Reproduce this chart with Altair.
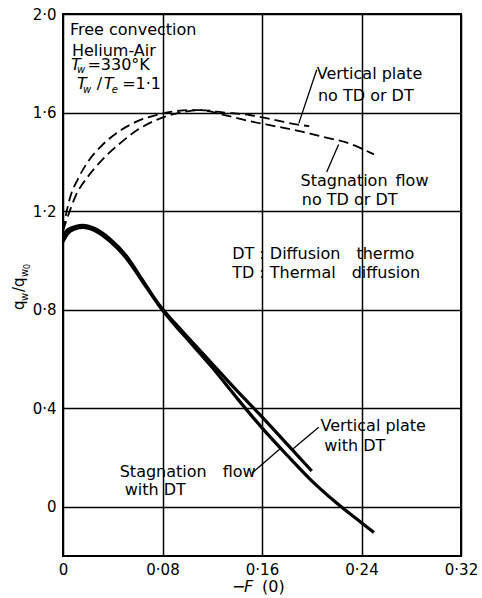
import altair as alt
import pandas as pd

FONT = "DejaVu Sans"
EN = "\u2002"
EM = "\u2003"

# ---- data ----
vp_dt_x = [0.0, 0.004, 0.01, 0.016, 0.025, 0.0375, 0.051, 0.064, 0.077, 0.09, 0.10, 0.12, 0.14, 0.16, 0.18, 0.20]
vp_dt_y = [1.10, 1.125, 1.137, 1.142, 1.13, 1.088, 1.018, 0.92, 0.822, 0.745, 0.69, 0.58, 0.47, 0.365, 0.255, 0.145]

sf_dt_x = [0.0, 0.004, 0.01, 0.016, 0.025, 0.0375, 0.051, 0.064, 0.077, 0.09, 0.10, 0.12, 0.14, 0.16, 0.18, 0.20, 0.22, 0.24, 0.25]
sf_dt_y = [1.075, 1.11, 1.128, 1.134, 1.122, 1.078, 1.008, 0.913, 0.818, 0.737, 0.68, 0.565, 0.44, 0.32, 0.21, 0.105, 0.015, -0.065, -0.105]

sf_no_x = [0.0, 0.003, 0.006, 0.012, 0.02, 0.03, 0.047, 0.06, 0.075, 0.09, 0.10, 0.11, 0.13, 0.15, 0.17, 0.19, 0.21, 0.227, 0.25]
sf_no_y = [1.12, 1.20, 1.26, 1.33, 1.40, 1.46, 1.53, 1.565, 1.59, 1.605, 1.61, 1.61, 1.59, 1.565, 1.545, 1.525, 1.50, 1.48, 1.43]

vp_no_x = [0.0, 0.004, 0.01, 0.02, 0.03, 0.047, 0.06, 0.075, 0.09, 0.10, 0.11, 0.13, 0.15, 0.17, 0.19, 0.198]
vp_no_y = [1.12, 1.18, 1.26, 1.34, 1.40, 1.48, 1.53, 1.57, 1.595, 1.605, 1.61, 1.60, 1.59, 1.57, 1.55, 1.545]

x_ticks = [0, 0.08, 0.16, 0.24, 0.32]
y_ticks = [0, 0.4, 0.8, 1.2, 1.6, 2.0]

# annotation texts (left x, baseline y in data units)
note_text = ["Free convection", "Helium-Air",
             "Vertical plate", "no TD or DT",
             "Stagnation" + EN + "flow", "no TD or DT",
             "DT : Diffusion" + EM + "thermo", "TD : Thermal" + EM + "diffusion",
             "Vertical plate", "with DT",
             "Stagnation" + EM + "flow", "with DT"]
note_x = [0.0056, 0.0072, 0.204, 0.205, 0.191, 0.192, 0.136, 0.136, 0.207, 0.210, 0.0456, 0.0496]
note_y = [1.915, 1.831, 1.738, 1.645, 1.302, 1.226, 1.004, 0.927, 0.306, 0.226, 0.121, 0.048]

# T_w = 330°K and T_w/T_e = 1·1 built from pieces
piece_text = ["T", "w", "=330°K", "T", "w", "/", "T", "e", "=1·1"]
piece_x = [0.0064, 0.0112, 0.0196, 0.0112, 0.0160, 0.0272, 0.0328, 0.0392, 0.0476]
piece_y = [1.774, 1.762, 1.774, 1.694, 1.681, 1.694, 1.694, 1.681, 1.694]
piece_sub = [False, True, False, False, True, False, False, True, False]
piece_it = [True, True, False, True, True, False, True, True, False]

# leader lines
lead_id = [1, 1, 2, 2, 3, 3, 4, 4]
lead_x = [0.204, 0.1896, 0.2216, 0.212, 0.2056, 0.185, 0.152, 0.175]
lead_y = [1.774, 1.556, 1.47, 1.359, 0.3226, 0.235, 0.137, 0.237]

# ---- tables ----
def series(name, xs, ys):
    return pd.DataFrame({"series": name, "x": xs, "y": ys, "order": range(len(xs))})

solid_df = pd.concat([series("Vertical plate with DT", vp_dt_x, vp_dt_y),
                      series("Stagnation flow with DT", sf_dt_x, sf_dt_y)])
dash_df = pd.concat([series("Vertical plate no TD or DT", vp_no_x, vp_no_y),
                     series("Stagnation flow no TD or DT", sf_no_x, sf_no_y)])
notes_df = pd.DataFrame({"t": note_text, "x": note_x, "y": note_y})
pieces_df = pd.DataFrame({"t": piece_text, "x": piece_x, "y": piece_y,
                          "sub": piece_sub, "it": piece_it})
lead_df = pd.DataFrame({"id": lead_id, "x": lead_x, "y": lead_y,
                        "order": list(range(len(lead_x)))})

xs = alt.Scale(domain=[0, 0.32], nice=False, zero=False)
ys = alt.Scale(domain=[-0.2, 2.0], nice=False, zero=False)

x_axis = alt.Axis(values=x_ticks, title=None, ticks=False, domain=False,
                  grid=True, gridColor="black", gridWidth=1.5, gridOpacity=1,
                  labelFont=FONT, labelFontSize=15, labelColor="black", labelPadding=6,
                  labelFlush=False,
                  labelExpr="datum.value == 0 ? '0' : replace(format(datum.value, '.2f'), '.', '·')")
y_axis = alt.Axis(values=y_ticks, title=None, ticks=False, domain=False,
                  grid=True, gridColor="black", gridWidth=1.5, gridOpacity=1,
                  labelFont=FONT, labelFontSize=15, labelColor="black", labelPadding=7,
                  labelFlush=False,
                  labelExpr="datum.value == 0 ? '0' : replace(format(datum.value, '.1f'), '.', '·')")

solid = alt.Chart(solid_df).mark_line(color="black", strokeWidth=3.2, interpolate="monotone").encode(
    x=alt.X("x:Q", scale=xs, axis=x_axis),
    y=alt.Y("y:Q", scale=ys, axis=y_axis),
    detail="series:N", order="order:Q")

dashed = alt.Chart(dash_df).mark_line(color="black", strokeWidth=1.8, strokeDash=[10, 5],
                                      interpolate="monotone").encode(
    x=alt.X("x:Q", scale=xs), y=alt.Y("y:Q", scale=ys),
    detail="series:N", order="order:Q")

leaders = alt.Chart(lead_df).mark_line(color="black", strokeWidth=1.3).encode(
    x=alt.X("x:Q", scale=xs), y=alt.Y("y:Q", scale=ys),
    detail="id:N", order="order:Q")

notes = alt.Chart(notes_df).mark_text(align="left", baseline="alphabetic", font=FONT,
                                      fontSize=16, color="black").encode(
    x=alt.X("x:Q", scale=xs), y=alt.Y("y:Q", scale=ys), text="t:N")

main_p = alt.Chart(pieces_df).transform_filter("!datum.sub && !datum.it").mark_text(
    align="left", baseline="alphabetic", font=FONT, fontSize=16, color="black").encode(
    x=alt.X("x:Q", scale=xs), y=alt.Y("y:Q", scale=ys), text="t:N")
ital_p = alt.Chart(pieces_df).transform_filter("!datum.sub && datum.it").mark_text(
    align="left", baseline="alphabetic", font=FONT, fontSize=16, fontStyle="italic", color="black").encode(
    x=alt.X("x:Q", scale=xs), y=alt.Y("y:Q", scale=ys), text="t:N")
sub_p = alt.Chart(pieces_df).transform_filter("datum.sub").mark_text(
    align="left", baseline="alphabetic", font=FONT, fontSize=10, fontStyle="italic", color="black").encode(
    x=alt.X("x:Q", scale=xs), y=alt.Y("y:Q", scale=ys), text="t:N")

# axis titles built from pieces (pixel offsets from the plot origin)
ytitle_df = pd.DataFrame({"t": ["q", "w", "/q", "w", "0"],
                          "px": [-39, -35, -39, -35, -33],
                          "py": [296, 287, 278, 263, 255],
                          "sz": [15, 10, 15, 10, 8]})
ytitle = alt.Chart(ytitle_df).mark_text(align="left", baseline="alphabetic", angle=270,
                                        font=FONT, color="black").encode(
    x=alt.X("px:Q", scale=None), y=alt.Y("py:Q", scale=None), text="t:N",
    size=alt.Size("sz:Q", scale=None, legend=None))

xtitle_df = pd.DataFrame({"t": ["−", "F", "(0)"], "px": [169, 181, 199], "py": [578, 578, 578],
                          "it": [False, True, False]})
xtitle_n = alt.Chart(xtitle_df).transform_filter("!datum.it").mark_text(
    align="left", baseline="alphabetic", font=FONT, fontSize=16, color="black").encode(
    x=alt.X("px:Q", scale=None), y=alt.Y("py:Q", scale=None), text="t:N")
xtitle_i = alt.Chart(xtitle_df).transform_filter("datum.it").mark_text(
    align="left", baseline="alphabetic", font=FONT, fontSize=16, fontStyle="italic", color="black").encode(
    x=alt.X("px:Q", scale=None), y=alt.Y("py:Q", scale=None), text="t:N")

chart = alt.layer(solid, dashed, leaders, notes, main_p, ital_p, sub_p,
                  ytitle, xtitle_n, xtitle_i).properties(
    width=398, height=542,
    padding={"left": 63, "top": 14, "right": 21, "bottom": 42},
    autosize=alt.AutoSizeParams(type="none"),
    background="white",
).configure_view(stroke="black", strokeWidth=2).resolve_scale(x="shared", y="shared")

chart.save("out.html", embed_options={"renderer": "svg", "actions": False})
